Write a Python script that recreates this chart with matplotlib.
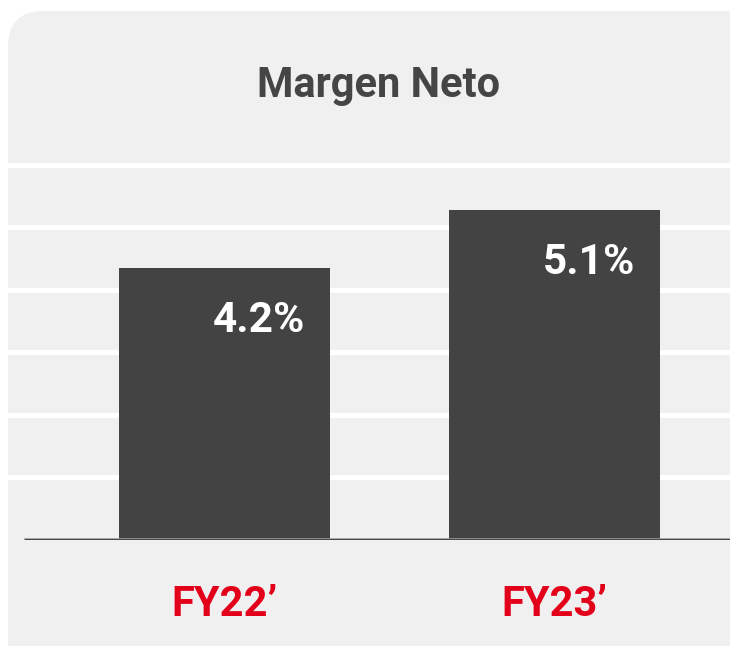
import numpy as np
import matplotlib.pyplot as plt
from matplotlib.patches import FancyBboxPatch
from matplotlib.transforms import blended_transform_factory

plt.rcParams['font.family'] = ['Roboto', 'DejaVu Sans']

# data
categories = ["FY22\u2019", "FY23\u2019"]
values = [4.2, 5.1]
labels = ["4.2%", "5.1%"]
title = "Margen Neto"

W, H = 730, 646
fig = plt.figure(figsize=(W / 100, H / 100), dpi=100)
fig.patch.set_facecolor('white')

# background panel with rounded top-left corner
bg = fig.add_axes([0, 0, 1, 1])
bg.set_xlim(0, W)
bg.set_ylim(H, 0)
bg.axis('off')
bg.add_patch(FancyBboxPatch((8, 11), 800, 720, boxstyle="round,pad=0,rounding_size=36",
                            facecolor='#f0f0f0', edgecolor='none'))

# main axes, pixel layout: left 8, baseline at 539.5, top at 140
base_px, top_px = 539.5, 140
ax = fig.add_axes([8 / W, (H - base_px) / H, 1 - 8 / W, (base_px - top_px) / H])
ax.set_facecolor('none')
px_per_unit = 64.7
ax.set_ylim(0, (base_px - top_px) / px_per_unit)
x = np.arange(len(categories))
ax.set_xlim((8 - 224.5) / 330, (730 - 224.5) / 330)

grid_step = 62.5 / px_per_unit
for k in range(1, 7):
    ax.axhline(k * grid_step, color='white', lw=3.6, zorder=1)

bar_w = 211 / 330
bars = ax.bar(x, values, width=bar_w, color='#434343', zorder=2)
ax.axhline(-0.012, xmin=18 / 722, color='#9a9a9a', lw=2.6, zorder=3)
ax.axhline(0, xmin=18 / 722, color='#464646', lw=2.1, zorder=3)

for b, lab in zip(bars, labels):
    ax.annotate(lab, xy=(b.get_x() + b.get_width(), b.get_height()),
                xytext=(-25 * 0.72, -64 * 0.72), textcoords='offset points',
                ha='right', va='baseline', color='white', fontsize=30.5,
                fontweight='bold', zorder=4)

trans = blended_transform_factory(ax.transData, ax.transAxes)
for xi, cat in zip(x, categories):
    ax.text(xi, (base_px - 615.5) / (base_px - top_px), cat, transform=trans,
            ha='center', va='baseline', color='#e2001a', fontsize=30,
            fontweight='bold')

for s in ax.spines.values():
    s.set_visible(False)
ax.set_xticks([])
ax.set_yticks([])

fig.text(379 / W, (H - 96.7) / H, title, ha='center', va='baseline',
         color='#454545', fontsize=30, fontweight='bold')

fig.savefig('out.png', dpi=100, facecolor=fig.get_facecolor())
